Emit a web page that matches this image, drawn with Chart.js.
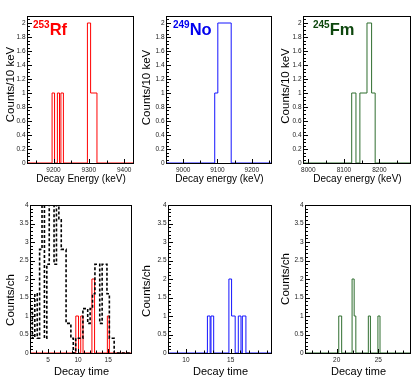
<!DOCTYPE html>
<html>
<head>
<meta charset="utf-8">
<script src="https://cdn.jsdelivr.net/npm/chart.js@4"></script>
<style>
  html, body { margin: 0; padding: 0; background: #fff; }
  #wrap { position: relative; width: 415px; height: 382px; overflow: hidden; }
  #wrap canvas { position: absolute; }
</style>
</head>
<body>
<div id="wrap"></div>
<script>
// ---- values: bin edges + counts per bin ----
const rfEnergyEdges  = [9125, 9196, 9203, 9211, 9217, 9221, 9228, 9296, 9305, 9323, 9425];
const rfEnergyCounts = [0, 1, 0, 1, 0, 1, 0, 2, 1, 0];
const noEnergyEdges  = [8950, 9092, 9101, 9140, 9256];
const noEnergyCounts = [0, 1, 2, 0];
const fmEnergyEdges  = [7985, 8122, 8134, 8145, 8165, 8178, 8188, 8286];
const fmEnergyCounts = [0, 1, 0, 1, 2, 1, 0];

const rfTimeEdges  = [2, 9.62, 10.07, 10.44, 10.82, 12.3, 12.74, 14.87, 15.2, 18.8];
const rfTimeCounts = [0, 1, 0, 1, 0, 2, 0, 1, 0];
// dashed black (scaled) reference histogram in the Rf time panel
const bgTimeEdges  = [2.0, 2.4, 2.8, 3.2, 3.6, 4.0, 4.4, 4.8, 5.2, 5.6, 6.0, 6.4, 6.8, 7.2, 7.6, 8.0, 8.4, 8.8,
                      9.2, 9.6, 10.0, 10.4, 10.8, 11.2, 11.6, 12.0, 12.4, 12.8, 13.2, 13.6, 14.0, 14.4, 14.8,
                      15.2, 15.6, 16.0, 18.8];
const bgTimeCounts = [1.2, 0.4, 1.6, 0.4, 2.8, 4.4, 0.4, 2.4, 4.4, 4.0, 2.4, 4.4, 3.6, 2.8, 2.8, 0.8, 0.8, 0.4,
                      0, 0.4, 0.4, 0.4, 1.2, 1.2, 0.8, 1.2, 1.6, 2.4, 2.4, 0.8, 2.4, 2.4, 1.6,
                      0.4, 0.4, 0];
const noTimeEdges  = [8, 12.4, 12.7, 12.8, 13.1, 14.8, 15.1, 15.5, 15.85, 16.15, 16.3, 16.7, 19.5];
const noTimeCounts = [0, 1, 0, 1, 0, 2, 1, 0, 1, 0, 1, 0];
const fmTimeEdges  = [16.2, 20.25, 20.6, 21.85, 22.1, 22.3, 23.8, 24.05, 24.95, 25.2, 28.8];
const fmTimeCounts = [0, 1, 0, 2, 1, 0, 1, 0, 1, 0];

// tick labels
const rfEnergyTicks = [9200, 9300, 9400];
const noEnergyTicks = [9000, 9100, 9200];
const fmEnergyTicks = [8000, 8100, 8200];
const rfTimeTicks = [5, 10, 15];
const noTimeTicks = [10, 15];
const fmTimeTicks = [20, 25];
const countTicksTop = [0, 0.2, 0.4, 0.6, 0.8, 1, 1.2, 1.4, 1.6, 1.8, 2];
const countTicksBottom = [0, 0.5, 1, 1.5, 2, 2.5, 3, 3.5, 4];

const FONT = '"Liberation Sans", Arial, Helvetica, sans-serif';
const RED = '#ff0000';
const BLUE = '#1414ff';
const GREEN = '#2f6e2f';
const GREEN_TXT = '#0e470e';

Chart.defaults.font.family = FONT;

// panel layout: box = frame [left, top, right, bottom] in page pixels
const panels = [
  { box: [27, 16, 133, 163], xr: [9125, 9425], xTicks: rfEnergyTicks, xMinor: 50, xSub: 2,
    yMax: 2.1, yTicks: countTicksTop, yMinor: 0.05, ySub: 4,
    series: [{ edges: rfEnergyEdges, counts: rfEnergyCounts, color: RED }],
    tag: ['253', 'Rf'], tagColor: RED, tagDx: 6,
    xTitle: 'Decay Energy (keV)', xTitleSize: 10, xTitleY: 182,
    yTitle: 'Counts/10 keV', yTitleX: 13.5, yTitleY: 84.5 },
  { box: [166, 16, 271, 163], xr: [8950, 9256], xTicks: noEnergyTicks, xMinor: 50, xSub: 2,
    yMax: 2.1, yTicks: countTicksTop, yMinor: 0.05, ySub: 4,
    series: [{ edges: noEnergyEdges, counts: noEnergyCounts, color: BLUE }],
    tag: ['249', 'No'], tagColor: '#0000ee', tagDx: 7,
    xTitle: 'Decay energy (keV)', xTitleSize: 10, xTitleY: 182,
    yTitle: 'Counts/10 keV', yTitleX: 150, yTitleY: 87.5 },
  { box: [303, 16, 410, 163], xr: [7985, 8286], xTicks: fmEnergyTicks, xMinor: 50, xSub: 2,
    yMax: 2.1, yTicks: countTicksTop, yMinor: 0.05, ySub: 4,
    series: [{ edges: fmEnergyEdges, counts: fmEnergyCounts, color: GREEN }],
    tag: ['245', 'Fm'], tagColor: GREEN_TXT, tagDx: 10,
    xTitle: 'Decay energy (keV)', xTitleSize: 10, xTitleY: 182,
    yTitle: 'Counts/10 keV', yTitleX: 288.5, yTitleY: 86 },
  { box: [30, 205, 131, 353], xr: [2, 18.8], xTicks: rfTimeTicks, xMinor: 1, xSub: 5,
    yMax: 4, yTicks: countTicksBottom, yMinor: 0.1, ySub: 5,
    series: [
      { edges: bgTimeEdges, counts: bgTimeCounts, color: '#000', width: 1.6, dash: [3, 2] },
      { edges: rfTimeEdges, counts: rfTimeCounts, color: RED }
    ],
    xTitle: 'Decay time', xTitleSize: 11, xTitleY: 375,
    yTitle: 'Counts/ch', yTitleX: 13.5, yTitleY: 300 },
  { box: [168, 205, 271, 353], xr: [8, 19.5], xTicks: noTimeTicks, xMinor: 1, xSub: 5,
    yMax: 4, yTicks: countTicksBottom, yMinor: 0.1, ySub: 5,
    series: [{ edges: noTimeEdges, counts: noTimeCounts, color: BLUE }],
    xTitle: 'Decay time', xTitleSize: 11, xTitleY: 375,
    yTitle: 'Counts/ch', yTitleX: 150, yTitleY: 291 },
  { box: [305, 205, 410, 353], xr: [16.2, 28.8], xTicks: fmTimeTicks, xMinor: 1, xSub: 5,
    yMax: 4, yTicks: countTicksBottom, yMinor: 0.1, ySub: 5,
    series: [{ edges: fmTimeEdges, counts: fmTimeCounts, color: GREEN }],
    xTitle: 'Decay time', xTitleSize: 11, xTitleY: 375,
    yTitle: 'Counts/ch', yTitleX: 288.5, yTitleY: 279 }
];

// outline of a histogram as step points (stepped line, horizontal first)
function histPoints(edges, counts) {
  const pts = [{ x: edges[0], y: 0 }];
  counts.forEach((c, i) => pts.push({ x: edges[i], y: c }));
  pts.push({ x: edges[edges.length - 1], y: 0 });
  return pts;
}

const mod = (k, n) => ((k % n) + n) % n;

// ROOT-like frame, inward ticks, nucleus tag and axis titles
const frameDeco = {
  id: 'frameDeco',
  afterDatasetsDraw(chart, args, o) {
    const { ctx, chartArea: a } = chart;
    const xs = chart.scales.x, ys = chart.scales.y;
    ctx.save();
    ctx.strokeStyle = '#000';
    ctx.lineWidth = 1;
    ctx.strokeRect(a.left + 0.5, a.top + 0.5, a.right - a.left, a.bottom - a.top);

    ctx.beginPath();
    const ny = Math.floor((ys.max - ys.min) / o.yMinor + 1e-6);
    for (let k = 1; k <= ny; k++) {
      const py = Math.round(ys.getPixelForValue(ys.min + k * o.yMinor)) + 0.5;
      const len = k % o.ySub === 0 ? 4 : 2;
      ctx.moveTo(a.left, py);
      ctx.lineTo(a.left + 1 + len, py);
    }
    const t0 = o.xTicks[0];
    const k0 = Math.ceil((xs.min - t0) / o.xMinor - 1e-6);
    const k1 = Math.floor((xs.max - t0) / o.xMinor + 1e-6);
    for (let k = k0; k <= k1; k++) {
      const px = Math.round(xs.getPixelForValue(t0 + k * o.xMinor)) + 0.5;
      const len = mod(k, o.xSub) === 0 ? 4 : 2.5;
      ctx.moveTo(px, a.bottom);
      ctx.lineTo(px, a.bottom - len);
    }
    ctx.stroke();

    if (o.tag) {
      ctx.fillStyle = o.tagColor;
      ctx.textAlign = 'left';
      ctx.textBaseline = 'alphabetic';
      let tx = a.left + o.tagDx;
      ctx.font = `bold 10px ${FONT}`;
      ctx.fillText(o.tag[0], tx, a.top + 12);
      tx += ctx.measureText(o.tag[0]).width;
      ctx.font = `bold 16.5px ${FONT}`;
      ctx.fillText(o.tag[1], tx, a.top + 18.5);
    }

    ctx.fillStyle = '#000';
    ctx.textAlign = 'center';
    ctx.textBaseline = 'alphabetic';
    ctx.font = `${o.xTitleSize}px ${FONT}`;
    ctx.fillText(o.xTitle, (a.left + a.right) / 2 + 1, o.xTitleY - o.oy);

    ctx.translate(o.yTitleX - o.ox, o.yTitleY - o.oy);
    ctx.rotate(-Math.PI / 2);
    ctx.font = `11.5px ${FONT}`;
    ctx.fillText(o.yTitle, 0, 0);
    ctx.restore();
  }
};

const wrap = document.getElementById('wrap');

panels.forEach(p => {
  const [l, t, r, b] = p.box;
  const ox = l - 28, oy = t - 16;
  const W = r - l + 32, H = b - t + 44;
  const cv = document.createElement('canvas');
  cv.width = W;
  cv.height = H;
  cv.style.left = ox + 'px';
  cv.style.top = oy + 'px';
  cv.style.width = W + 'px';
  cv.style.height = H + 'px';
  wrap.appendChild(cv);

  const tickFont = { size: 6.5, family: FONT };

  new Chart(cv, {
    type: 'line',
    data: {
      datasets: p.series.map(s => ({
        data: histPoints(s.edges, s.counts),
        borderColor: s.color,
        borderWidth: s.width || 1,
        borderDash: s.dash || [],
        stepped: true,
        pointRadius: 0,
        fill: false,
        clip: { left: 0, right: 0, top: 0, bottom: 1 }
      }))
    },
    options: {
      responsive: false,
      animation: false,
      devicePixelRatio: 1,
      events: [],
      layout: { padding: { left: 0, top: 16, right: 4, bottom: 0 } },
      scales: {
        x: {
          type: 'linear',
          min: p.xr[0],
          max: p.xr[1],
          afterBuildTicks: s => { s.ticks = p.xTicks.map(v => ({ value: v })); },
          afterFit: s => { s.height = 28; s.paddingLeft = 0; s.paddingRight = 0; },
          grid: { display: false, drawTicks: false, tickLength: 0 },
          border: { display: false },
          ticks: { font: tickFont, color: '#222', padding: 3, maxRotation: 0, autoSkip: false,
                   callback: v => String(v) }
        },
        y: {
          type: 'linear',
          min: 0,
          max: p.yMax,
          afterBuildTicks: s => { s.ticks = p.yTicks.map(v => ({ value: v })); },
          afterFit: s => { s.width = 28; s.paddingTop = 0; s.paddingBottom = 0; },
          grid: { display: false, drawTicks: false, tickLength: 0 },
          border: { display: false },
          ticks: { font: tickFont, color: '#222', padding: 1.5, autoSkip: false,
                   callback: v => String(v) }
        }
      },
      plugins: {
        legend: { display: false },
        tooltip: { enabled: false },
        frameDeco: {
          ox, oy,
          xTicks: p.xTicks, xMinor: p.xMinor, xSub: p.xSub,
          yMinor: p.yMinor, ySub: p.ySub,
          tag: p.tag, tagColor: p.tagColor, tagDx: p.tagDx,
          xTitle: p.xTitle, xTitleSize: p.xTitleSize, xTitleY: p.xTitleY,
          yTitle: p.yTitle, yTitleX: p.yTitleX, yTitleY: p.yTitleY
        }
      }
    },
    plugins: [frameDeco]
  });
});
</script>
</body>
</html>
